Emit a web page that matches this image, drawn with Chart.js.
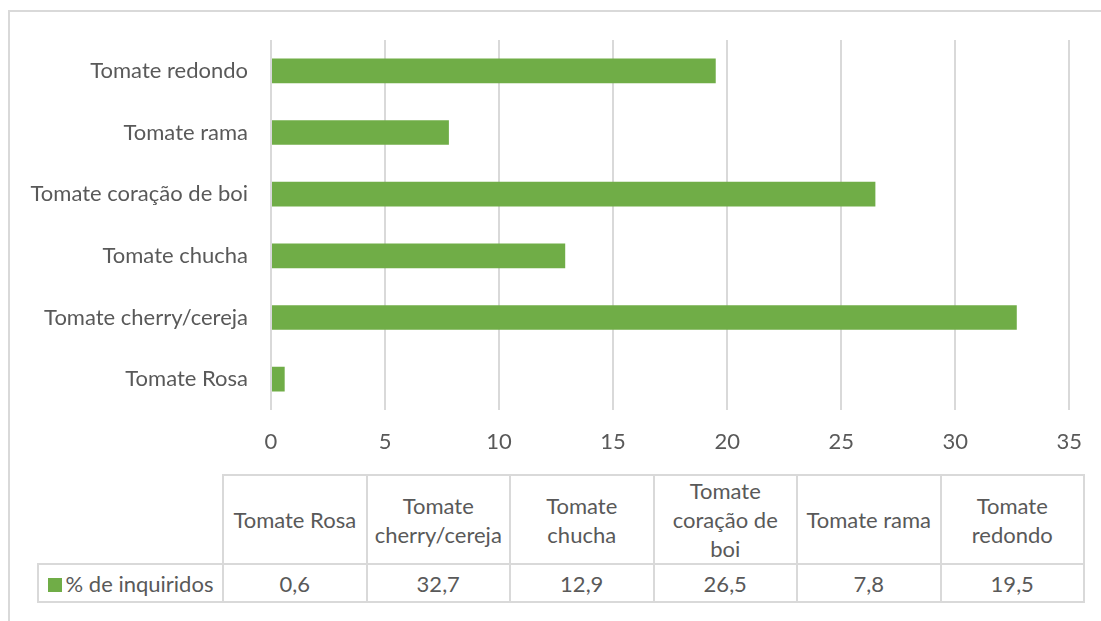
<!DOCTYPE html>
<html>
<head>
<meta charset="utf-8">
<script src="https://cdn.jsdelivr.net/npm/chart.js@4"></script>
<style>
  body { margin: 0; background: #fff; font-family: Lato, "Open Sans", sans-serif; }
  #wrap { position: relative; width: 1101px; height: 621px; overflow: hidden; }
  #frame { position: absolute; left: 8px; top: 10px; width: 1200px; height: 700px;
           border-left: 2px solid #d9d9d9; border-top: 2px solid #d9d9d9; }
  #chartBox { position: absolute; left: 0; top: 0; width: 1101px; height: 470px; }
  #dataTable { position: absolute; left: 37px; top: 474px; border-collapse: collapse;
               color: #595959; font-size: 22px; table-layout: fixed; }
  #dataTable td { border: 2px solid #d9d9d9; text-align: center; padding: 0 3px; line-height: 29px; }
  #dataTable tr.head td { height: 86px; }
  #dataTable tr.vals td { height: 36px; }
  #dataTable td.blank { border: none; border-right: 2px solid #d9d9d9; }
  .swatch { display: inline-block; width: 14px; height: 14px; background: #70ad47; margin-right: 4px; vertical-align: 0px; }
</style>
</head>
<body>
<div id="wrap">
  <div id="frame"></div>
  <div id="chartBox"><canvas id="myChart"></canvas></div>
  <table id="dataTable"></table>
</div>
<script>
// data
const categories = ['Tomate Rosa', 'Tomate cherry/cereja', 'Tomate chucha', 'Tomate coração de boi', 'Tomate rama', 'Tomate redondo'];
const percentInquiridos = [0.6, 32.7, 12.9, 26.5, 7.8, 19.5];
const seriesName = '% de inquiridos';
const xTicks = [0, 5, 10, 15, 20, 25, 30, 35];

const textColor = '#595959';
const gridColor = '#d9d9d9';
const barColor = '#70ad47';

// chart
const ctx = document.getElementById('myChart');
const myChart = new Chart(ctx, {
  type: 'bar',
  data: {
    labels: categories,
    datasets: [{
      label: seriesName,
      data: percentInquiridos,
      backgroundColor: barColor,
      barPercentage: 1,
      categoryPercentage: 0.4,
    }],
  },
  options: {
    indexAxis: 'y',
    responsive: true,
    maintainAspectRatio: false,
    animation: false,
    layout: { padding: { top: 40, right: 30, left: 0, bottom: 0 } },
    plugins: { legend: { display: false }, tooltip: { enabled: false } },
    scales: {
      x: {
        min: 0,
        max: 35,
        afterBuildTicks: (scale) => { scale.ticks = xTicks.map(v => ({ value: v })); },
        afterFit: (scale) => { scale.height = 60; },
        grid: { color: gridColor, lineWidth: 2, drawTicks: false },
        border: { display: false },
        ticks: { color: textColor, font: { family: 'Lato', size: 22 }, padding: 19 },
      },
      y: {
        reverse: true,
        afterFit: (scale) => { scale.width = 271; },
        grid: { display: false, drawTicks: false },
        border: { display: false },
        ticks: { color: textColor, font: { family: 'Lato', size: 22 }, padding: 23 },
      },
    },
  },
});

// data table under the chart
const fmt = (v) => v.toFixed(1).replace('.', ',');
const table = document.getElementById('dataTable');
let cols = '<colgroup><col style="width:185px">';
categories.forEach(() => { cols += '<col style="width:143.5px">'; });
cols += '</colgroup>';
let head = '<tr class="head"><td class="blank"></td>';
categories.forEach(c => { head += '<td>' + c + '</td>'; });
head += '</tr>';
let vals = '<tr class="vals"><td><span class="swatch"></span>' + seriesName + '</td>';
percentInquiridos.forEach(v => { vals += '<td>' + fmt(v) + '</td>'; });
vals += '</tr>';
table.innerHTML = cols + head + vals;
</script>
</body>
</html>
